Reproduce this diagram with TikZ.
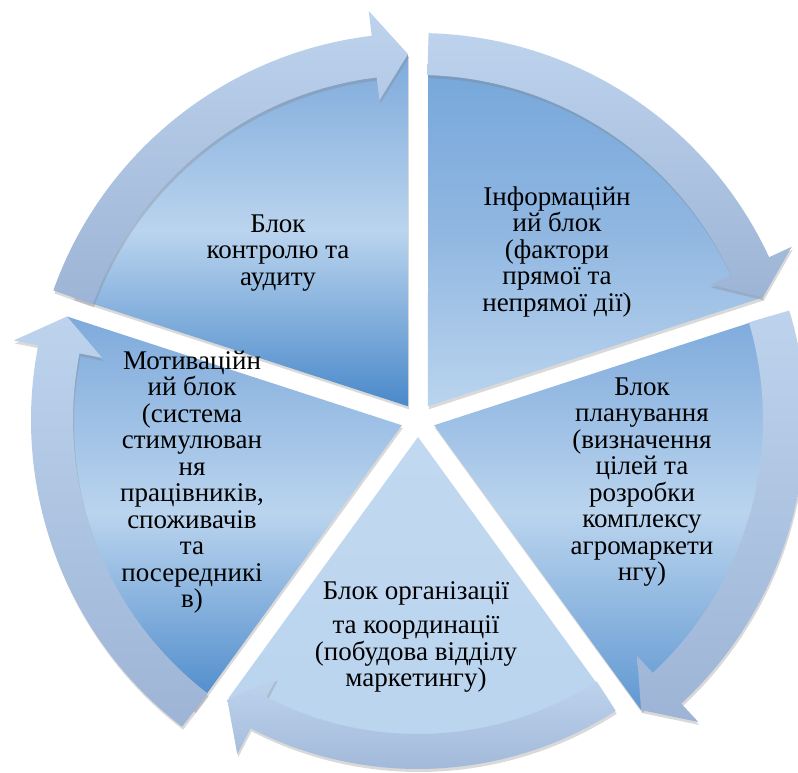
\documentclass[tikz,border=0pt]{standalone}
\usepackage{fontspec}
\setmainfont{Liberation Serif}
\usepackage{xcolor}
\usepackage{tikz}
\usetikzlibrary{shadows}

\definecolor{darkblue}{HTML}{4A89CA}
\definecolor{midblue}{HTML}{7EAADB}
\definecolor{topblue}{HTML}{74A6DA}
\definecolor{paleblue}{HTML}{BAD4EE}
\definecolor{bandtop}{HTML}{BDD3ED}
\definecolor{bandbot}{HTML}{9DB4D6}

\begin{document}
\begin{tikzpicture}[x=1pt,y=1pt,
  piece/.style={drop shadow={shadow xshift=1pt,shadow yshift=-3pt,opacity=0.3}},
  arrowband/.style={top color=bandtop,bottom color=bandbot,
    drop shadow={shadow xshift=1pt,shadow yshift=-3pt,opacity=0.3}},
  blocktext/.style={align=center,font=\fontsize{27}{26.5}\selectfont}]
\useasboundingbox (-418pt,-353pt) rectangle (380pt,420pt);

% pieces of the cycle
\path[piece,top color=midblue,bottom color=darkblue,middle color=paleblue]
  (126:17pt) -- (91.57:366pt) arc[start angle=91.57,end angle=160.43,radius=366pt] -- cycle;
\path[piece,top color=topblue,bottom color=paleblue,middle color=midblue!70!paleblue]
  (54:17pt) -- (19.57:366pt) arc[start angle=19.57,end angle=88.43,radius=366pt] -- cycle;
\path[piece,top color=midblue,bottom color=darkblue!80!paleblue,middle color=paleblue]
  (342:17pt) -- (307.57:366pt) arc[start angle=307.57,end angle=376.43,radius=366pt] -- cycle;
\path[piece,top color=paleblue!90!white,bottom color=paleblue]
  (270:17pt) -- ([shift={(0,16pt)}]237.2:350pt) arc[start angle=237.2,end angle=302.8,radius=350pt] -- cycle;
\path[piece,top color=midblue,bottom color=darkblue,middle color=paleblue]
  (198:17pt) -- (163.57:366pt) arc[start angle=163.57,end angle=232.43,radius=366pt] -- cycle;

% arrows round the pieces
\path[arrowband] (160.43:387pt) arc[start angle=160.43,end angle=96.87,radius=387pt]
  -- (96.87:412pt) -- (91.57:366pt) -- (96.87:322pt) -- (96.87:345pt)
  arc[start angle=96.87,end angle=160.43,radius=345pt] -- cycle;
\path[arrowband] (88.43:387pt) arc[start angle=88.43,end angle=24.87,radius=387pt]
  -- (24.87:412pt) -- (19.57:366pt) -- (24.87:322pt) -- (24.87:345pt)
  arc[start angle=24.87,end angle=88.43,radius=345pt] -- cycle;
\path[arrowband] (376.43:387pt) arc[start angle=376.43,end angle=312.87,radius=387pt]
  -- (312.87:412pt) -- (307.57:366pt) -- (312.87:322pt) -- (312.87:345pt)
  arc[start angle=312.87,end angle=376.43,radius=345pt] -- cycle;
\path[arrowband] ([shift={(0,16pt)}]302.8:365pt) arc[start angle=302.8,end angle=242.7,radius=365pt]
  -- ([shift={(0,16pt)}]242.7:394pt) -- ([shift={(0,16pt)}]237.2:352pt)
  -- ([shift={(0,16pt)}]242.7:308pt) -- ([shift={(0,16pt)}]242.7:330pt)
  arc[start angle=242.7,end angle=302.8,radius=330pt] -- cycle;
\path[arrowband] (232.43:387pt) arc[start angle=232.43,end angle=168.87,radius=387pt]
  -- (168.87:412pt) -- (163.57:366pt) -- (168.87:322pt) -- (168.87:345pt)
  arc[start angle=168.87,end angle=232.43,radius=345pt] -- cycle;

% texts
\node[blocktext] (control) at (-140,167) {Блок\\контролю та\\аудиту};
\node[blocktext] (info) at (139,168) {Інформаційн\\ий блок\\(фактори\\прямої та\\непрямої дії)};
\node[blocktext] (plan) at (224,-62) {Блок\\планування\\(визначення\\цілей та\\розробки\\комплексу\\агромаркети\\нгу)};
\node[blocktext] (org) at (-2,-217) {Блок організації\\[8pt]та координації\\(побудова відділу\\маркетингу)};
\node[blocktext] (motiv) at (-226,-62) {Мотиваційн\\ий блок\\(система\\стимулюван\\ня\\працівників,\\споживачів\\та\\посередникі\\в)};
\end{tikzpicture}
\end{document}
